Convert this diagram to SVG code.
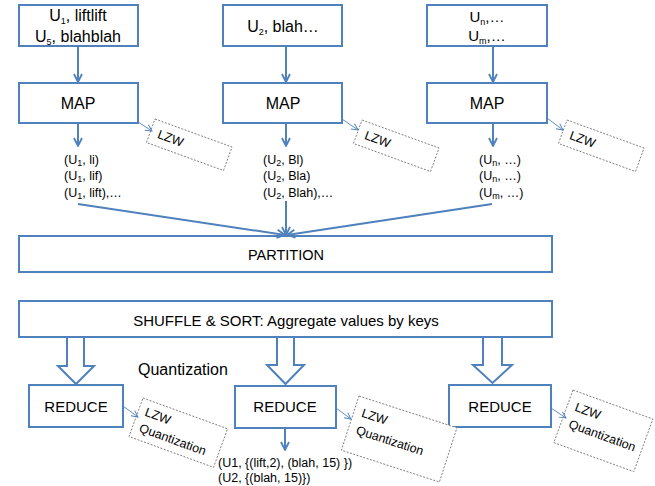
<svg xmlns="http://www.w3.org/2000/svg" width="655" height="486" viewBox="0 0 655 486">
<defs>
<style>
.box{fill:#fff;stroke:#4F81BD;stroke-width:2}
.dbox{fill:#fff;stroke:#7f7f7f;stroke-width:0.9;stroke-dasharray:2,1.5}
.ln{fill:none;stroke:#4F81BD;stroke-width:2}
.thin{fill:none;stroke:#4F81BD;stroke-width:0.9}
text{font-family:"Liberation Sans",Arial,sans-serif;fill:#000}
.t16{font-size:16px}
.t15{font-size:15px}
.t12{font-size:12.5px}
.sub{font-size:9px}
.c{text-anchor:middle}
</style>
<marker id="ah" viewBox="0 0 10 10" refX="9" refY="5" markerWidth="10" markerHeight="10" markerUnits="userSpaceOnUse" orient="auto">
<path d="M1,1 L9,5 L1,9" fill="none" stroke="#4F81BD" stroke-width="1.8"/>
</marker>
<marker id="ahs" viewBox="0 0 10 10" refX="9" refY="5" markerWidth="8" markerHeight="8" markerUnits="userSpaceOnUse" orient="auto">
<path d="M1,1 L9,5 L1,9" fill="none" stroke="#4F81BD" stroke-width="1.2"/>
</marker>
</defs>

<g id="in1"><rect class="box" x="19" y="5" width="119" height="41"/>
<text class="t16 c" x="78" y="21">U<tspan class="sub" dy="3">1</tspan><tspan dy="-3">, liftlift</tspan></text>
<text class="t16 c" x="78" y="42">U<tspan class="sub" dy="3">5</tspan><tspan dy="-3">, blahblah</tspan></text></g>
<g id="in2"><rect class="box" x="223" y="5" width="119" height="41"/>
<text class="t16 c" x="283" y="32">U<tspan class="sub" dy="3">2</tspan><tspan dy="-3">, blah…</tspan></text></g>
<g id="in3"><rect class="box" x="427" y="5" width="120" height="41"/>
<text class="t15 c" x="487" y="22">U<tspan class="sub" dy="3">n</tspan><tspan dy="-3">,…</tspan></text>
<text class="t15 c" x="487" y="41">U<tspan class="sub" dy="3">m</tspan><tspan dy="-3">,…</tspan></text></g>

<g id="map1"><rect class="box" x="19" y="83" width="119" height="40"/><text class="t16 c" x="78" y="109">MAP</text></g>
<g id="map2"><rect class="box" x="223" y="83" width="119" height="40"/><text class="t16 c" x="283" y="109">MAP</text></g>
<g id="map3"><rect class="box" x="427" y="83" width="120" height="40"/><text class="t16 c" x="487" y="109">MAP</text></g>

<g id="lzw1" transform="translate(155,119) rotate(20)"><rect class="dbox" x="0" y="0" width="82" height="25"/><text class="t12" x="8" y="17">LZW</text></g>
<g id="lzw2" transform="translate(362,120) rotate(20)"><rect class="dbox" x="0" y="0" width="82" height="25"/><text class="t12" x="8" y="17">LZW</text></g>
<g id="lzw3" transform="translate(567,120) rotate(20)"><rect class="dbox" x="0" y="0" width="82" height="25"/><text class="t12" x="8" y="17">LZW</text></g>

<g id="out1">
<text class="t12" x="64" y="164">(U<tspan class="sub" dy="2">1</tspan><tspan dy="-2">, li)</tspan></text>
<text class="t12" x="64" y="180">(U<tspan class="sub" dy="2">1</tspan><tspan dy="-2">, lif)</tspan></text>
<text class="t12" x="64" y="197">(U<tspan class="sub" dy="2">1</tspan><tspan dy="-2">, lift),…</tspan></text></g>
<g id="out2">
<text class="t12" x="263" y="164">(U<tspan class="sub" dy="2">2</tspan><tspan dy="-2">, Bl)</tspan></text>
<text class="t12" x="263" y="180">(U<tspan class="sub" dy="2">2</tspan><tspan dy="-2">, Bla)</tspan></text>
<text class="t12" x="263" y="197">(U<tspan class="sub" dy="2">2</tspan><tspan dy="-2">, Blah),…</tspan></text></g>
<g id="out3">
<text class="t12" x="479" y="164">(U<tspan class="sub" dy="2">n</tspan><tspan dy="-2">, …)</tspan></text>
<text class="t12" x="479" y="180">(U<tspan class="sub" dy="2">n</tspan><tspan dy="-2">, …)</tspan></text>
<text class="t12" x="479" y="197">(U<tspan class="sub" dy="2">m</tspan><tspan dy="-2">, …)</tspan></text></g>

<g id="partition"><rect class="box" x="19" y="236" width="533" height="36"/><text class="c" style="font-size:14.5px" x="286" y="260">PARTITION</text></g>
<g id="shuffle"><rect class="box" x="19" y="301" width="533" height="36"/><text class="t15 c" x="286" y="326">SHUFFLE &amp; SORT: Aggregate values by keys</text></g>

<g id="quant"><text class="t16" x="138" y="375">Quantization</text></g>

<g id="red1"><rect class="box" x="29" y="385" width="94" height="42"/><text class="t15 c" x="76" y="412">REDUCE</text></g>
<g id="red2"><rect class="box" x="235" y="386" width="101" height="42"/><text class="t15 c" x="285" y="412">REDUCE</text></g>
<g id="red3"><rect class="box" x="449" y="385" width="102" height="42"/><text class="t15 c" x="500" y="412">REDUCE</text></g>

<g id="lzq1" transform="translate(143,398) rotate(20)"><rect class="dbox" x="0" y="0" width="90" height="41"/><text class="t12" x="7" y="16">LZW</text><text class="t12" x="7" y="33">Quantization</text></g>
<g id="lzq2" transform="translate(359,396) rotate(18)"><rect class="dbox" x="0" y="0" width="103" height="57"/><text class="t12" x="8" y="19">LZW</text><text class="t12" x="8" y="37">Quantization</text></g>
<g id="lzq3" transform="translate(573,390) rotate(20)"><rect class="dbox" x="0" y="0" width="85" height="56"/><text class="t12" x="8" y="19">LZW</text><text class="t12" x="8" y="37">Quantization</text></g>

<g id="result"><text style="font-size:12.5px" x="218" y="467">(U1, {(lift,2), (blah, 15) })</text>
<text style="font-size:12.5px" x="218" y="482">(U2, {(blah, 15)})</text></g>

<g id="connectors">
<line class="ln" x1="78" y1="46" x2="78" y2="82" marker-end="url(#ah)"/>
<line class="ln" x1="286" y1="46" x2="286" y2="82" marker-end="url(#ah)"/>
<line class="ln" x1="493" y1="46" x2="493" y2="82" marker-end="url(#ah)"/>
<line class="ln" x1="78" y1="123" x2="78" y2="146" marker-end="url(#ah)"/>
<line class="ln" x1="286" y1="123" x2="286" y2="146" marker-end="url(#ah)"/>
<line class="ln" x1="493" y1="123" x2="493" y2="146" marker-end="url(#ah)"/>
<line class="ln" x1="78" y1="204" x2="285" y2="235" marker-end="url(#ah)"/>
<line class="ln" x1="286" y1="201" x2="286" y2="235" marker-end="url(#ah)"/>
<line class="ln" x1="492" y1="204" x2="287" y2="235" marker-end="url(#ah)"/>
<line class="thin" x1="138" y1="122" x2="152" y2="131" marker-end="url(#ahs)"/>
<line class="thin" x1="342" y1="119" x2="358" y2="130" marker-end="url(#ahs)"/>
<line class="thin" x1="547" y1="118" x2="563" y2="130" marker-end="url(#ahs)"/>
<polygon class="box" points="67,337 84,337 84,366 94,366 76,384 58,366 67,366"/>
<polygon class="box" points="277,337 294,337 294,365 304,365 285.5,384 267,365 277,365"/>
<polygon class="box" points="483,337 502,337 502,365 512,365 492.5,383 473,365 483,365"/>
<line class="thin" x1="123" y1="406" x2="138" y2="417" marker-end="url(#ahs)"/>
<line class="thin" x1="336" y1="408" x2="351" y2="419" marker-end="url(#ahs)"/>
<line class="thin" x1="551" y1="408" x2="566" y2="418" marker-end="url(#ahs)"/>
<line class="ln" x1="285" y1="428" x2="285" y2="450" marker-end="url(#ah)"/>
</g>
</svg>
